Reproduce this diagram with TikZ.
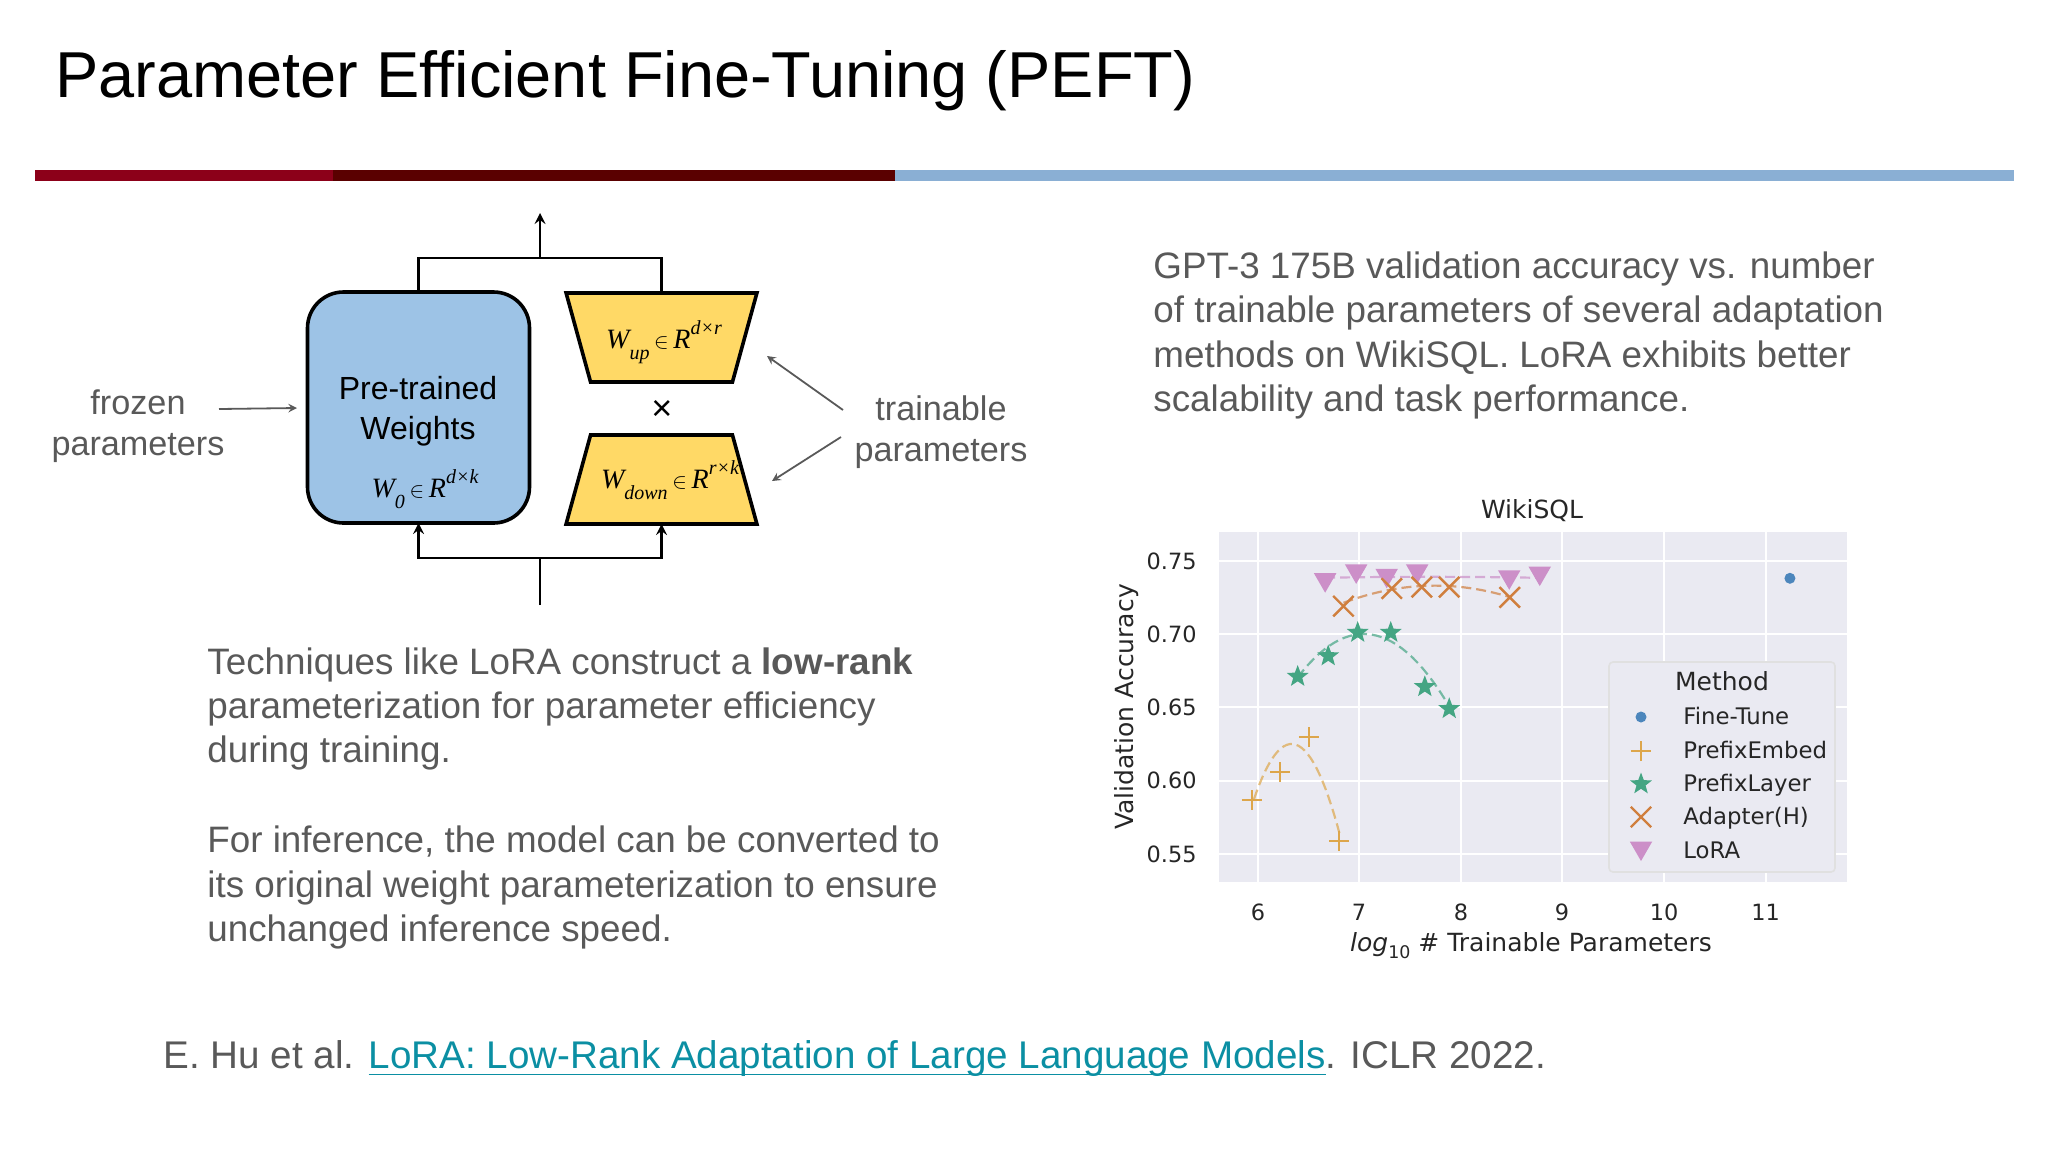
\documentclass[tikz,border=0pt]{standalone}
\usepackage{fontspec}
\setmainfont{Liberation Sans}
\newfontfamily\timesfont{Liberation Serif}
\newfontfamily\plotfont{DejaVu Sans}
\usetikzlibrary{positioning,shapes.geometric,shapes.misc}
\definecolor{barred}{HTML}{8C0019}
\definecolor{bardark}{HTML}{5A0000}
\definecolor{barblue}{HTML}{8AAFD4}
\definecolor{slidegray}{HTML}{595959}
\definecolor{linkteal}{HTML}{0B8FA3}
\definecolor{weightblue}{HTML}{9DC3E6}
\definecolor{weightyellow}{HTML}{FFD966}
\definecolor{plotbg}{HTML}{EAEAF2}
\definecolor{tunecolor}{HTML}{4C86BC}
\definecolor{embedcolor}{HTML}{DDA64B}
\definecolor{layercolor}{HTML}{44A583}
\definecolor{adaptcolor}{HTML}{D07F3E}
\definecolor{loracolor}{HTML}{CC8FC8}
\newcommand{\weightlabel}[3]{{\timesfont\itshape W\raisebox{-0.8ex}{\fontsize{10}{10}\selectfont #2}\,{\fontsize{11}{11}\selectfont$\in$}\,R\raisebox{1.1ex}{\fontsize{10}{10}\selectfont #3}}}
\newcommand{\linkline}[1]{$\underline{\hbox{\smash{#1}\rule[-1.6pt]{0pt}{1.6pt}}}$}
\tikzset{
  slidetext/.style={anchor=north west,align=left,text=slidegray,inner sep=0pt,font=\fontsize{18.4}{22.2}\selectfont},
  sidetext/.style={align=center,text=slidegray,inner sep=0pt,font=\fontsize{17.1}{20.4}\selectfont},
  weightbox/.style={draw,line width=1.8pt,outer sep=0pt,inner sep=0pt},
  lowrank/.style={weightbox,trapezium,trapezium stretches=true,fill=weightyellow,minimum width=95.5pt,minimum height=44.5pt,trapezium left angle=76.7,trapezium right angle=76.7},
  mathtext/.style={inner sep=0pt,font=\fontsize{14}{16}\selectfont},
  greyarrow/.style={->,color=slidegray,line width=0.9pt},
  plottext/.style={inner sep=0pt,text=black!85,font=\plotfont\fontsize{12.5}{14}\selectfont},
  ticktext/.style={inner sep=0pt,text=black!85,font=\plotfont\fontsize{11.2}{13}\selectfont},
  entrytext/.style={inner sep=0pt,text=black!85,anchor=base west,yshift=-3.8pt,font=\plotfont\fontsize{11.4}{13}\selectfont},
  dotmark/.style={circle,fill=tunecolor,inner sep=0pt,minimum size=5.5pt},
  plusmark/.style={cross out,draw=embedcolor,line width=1.1pt,inner sep=0pt,minimum size=6pt,rotate=45},
  starmark/.style={star,star points=5,star point ratio=2.4,fill=layercolor,inner sep=0pt,minimum size=11.5pt},
  crossmark/.style={cross out,draw=adaptcolor,line width=1.2pt,inner sep=0pt,minimum size=9pt},
  loramark/.style={regular polygon,regular polygon sides=3,shape border rotate=180,fill=loracolor,inner sep=0pt,minimum size=13pt,yshift=1.5pt},
  fitcurve/.style={dashed,dash pattern=on 5pt off 2.5pt,line width=1.1pt,opacity=0.7,samples=30}
}
\begin{document}
\begin{tikzpicture}[x=0.5pt,y=-0.5pt,>=stealth]
	\useasboundingbox (0,0) rectangle (2048,1152);
	% title and bar
	\node (title) [anchor=base west,inner sep=0pt,font=\fontsize{32.45}{36}\selectfont] at (55,97) {Parameter Efficient Fine-Tuning (PEFT)};
	\fill[barred] (35,170) rectangle (333,181);
	\fill[bardark] (333,170) rectangle (895,181);
	\fill[barblue] (895,170) rectangle (2014,181);

	% create the weight nodes.
	\node (pre) [weightbox,rounded corners=18pt,fill=weightblue,minimum width=111pt,minimum height=115.5pt] at (418.5,407.5) {};
	\node (wup) [lowrank,shape border rotate=180] at (661.5,337.5) {\phantom{W}};
	\node (wdown) [lowrank] at (661.5,479.5) {\phantom{W}};
	\node (pretext) [inner sep=0pt,align=center,font=\fontsize{16}{20}\selectfont] at (418,411) {Pre-trained\\Weights};
	\node (prelabel) [mathtext] at (425,489) {\weightlabel{W}{0}{d×k}};
	\node (uplabel) [mathtext] at (664,342) {\weightlabel{W}{up}{d×r}};
	\node (downlabel) [mathtext] at (670,480) {\weightlabel{W}{down}{r×k}};
	\node (times) [inner sep=0pt,font=\fontsize{18}{20}\selectfont] at (662,410) {×};
	\coordinate (topbus) at (540,258);
	\coordinate (topout) at (540,213);
	\coordinate (botbus) at (540,558);
	\coordinate (botin) at (540,605);
	\node (frozen) [sidetext] at (138,426) {frozen\\parameters};
	\node (trainable) [sidetext] at (941,432) {trainable\\parameters};
	\coordinate (frozenend) at (219,409);
	\coordinate (upend) at (843,410);
	\coordinate (downend) at (841,437);

	% connect the nodes
	\draw[line width=1.4pt] (pre.north) |- (topbus) -| (wup.north);
	\draw[->,line width=1.4pt] (topbus) -- (topout);
	\draw[line width=1.4pt] (botin) -- (botbus);
	\draw[->,line width=1.4pt] (botbus) -| (pre.south);
	\draw[->,line width=1.4pt] (botbus) -| (wdown.south);
	\draw[greyarrow] (frozenend) -- (297,408);
	\draw[greyarrow] (upend) -- (767,356);
	\draw[greyarrow] (downend) -- (772,481);

	% text blocks
	\node (method) [slidetext] at (207,647) {Techniques like LoRA construct a \textbf{low-rank}\\parameterization for parameter efficiency\\during training.};
	\node (inference) [slidetext] [below=27.5pt of method.south west,anchor=north west] {For inference, the model can be converted to\\its original weight parameterization to ensure\\unchanged inference speed.};
	\node (caption) [slidetext] at (1153,251.5) {GPT-3 175B validation accuracy vs. number\\of trainable parameters of several adaptation\\methods on WikiSQL. LoRA exhibits better\\scalability and task performance.};
	\node (cite) [anchor=base west,inner sep=0pt,text=slidegray,font=\fontsize{19.3}{22.2}\selectfont] at (163,1068) {E. Hu et al. \textcolor{linkteal}{\linkline{LoRA: Low-Rank Adaptation of Large Language Models}}. ICLR 2022.};

	% the plot
	\fill[plotbg] (1219,532) rectangle (1847,882);
	\node (plottitle) [plottext] at (1532,511) {WikiSQL};
	\node (ylabel) [plottext,rotate=90] at (1127,707) {Validation Accuracy};
	\node (xlabel) [plottext] at (1531,946) {{\itshape log}\raisebox{-0.5ex}{\fontsize{8.7}{9}\selectfont 10} \# Trainable Parameters};
	\foreach \tick/\xpos in {6/1258,7/1359,8/1461,9/1562,10/1664,11/1765.5} {
		\draw[white,line width=1pt] (\xpos,532) -- (\xpos,882);
		\node (xtick\tick) [ticktext] at (\xpos,912) {\tick};
	}
	\foreach \tick/\ypos in {0.75/561,0.70/634,0.65/707,0.60/780.7,0.55/854} {
		\draw[white,line width=1pt] (1219,\ypos) -- (1847,\ypos);
		\node (ytick\tick) [ticktext,anchor=east] at (1197,\ypos) {\tick};
	}
	\begin{scope}[shift={(1257,560.7)}]
	\begin{scope}[x=50.85pt,y=733pt,shift={(-6,-0.75)}]
		\draw[fitcurve,embedcolor,domain=5.97:6.82] plot (\x,{0.625-0.275*(\x-6.34)*(\x-6.34)});
		\draw[fitcurve,layercolor,domain=6.4:7.89] plot (\x,{0.7-0.07*(\x-7.05)*(\x-7.05)});
		\draw[fitcurve,adaptcolor,domain=6.85:8.49] plot (\x,{0.733-0.0145*(\x-7.75)*(\x-7.75)});
		\draw[fitcurve,loracolor,domain=6.67:8.78] plot (\x,{0.739-0.0006*(\x-7.7)*(\x-7.7)});
		\foreach \px/\py [count=\i] in {5.95/0.587,6.226/0.606,6.51/0.630,6.81/0.559}
			\node (embed\i) [plusmark] at (\px,\py) {};
		\foreach \px/\py [count=\i] in {6.40/0.671,6.70/0.685,6.99/0.701,7.315/0.701,7.65/0.664,7.89/0.649}
			\node (layer\i) [starmark] at (\px,\py) {};
		\foreach \px/\py [count=\i] in {6.67/0.735,6.975/0.741,7.275/0.738,7.575/0.741,8.48/0.737,8.78/0.7395}
			\node (lora\i) [loramark] at (\px,\py) {};
		\foreach \px/\py [count=\i] in {6.85/0.719,7.325/0.731,7.62/0.732,7.89/0.732,8.485/0.725}
			\node (adapt\i) [crossmark] at (\px,\py) {};
		\node (tune1) [dotmark] at (11.24,0.738) {};
	\end{scope}
	\end{scope}

	% the legend
	\node (legendbox) [draw=black!12,fill=plotbg,line width=0.8pt,rounded corners=2pt,minimum width=113pt,minimum height=105pt,inner sep=0pt] at (1722,767) {};
	\node (legendtitle) [plottext] at (1722,681) {Method};
	\foreach \name/\mark/\ypos in {Fine-Tune/dotmark/717,PrefixEmbed/plusmark/751,PrefixLayer/starmark/784,Adapter(H)/crossmark/817,LoRA/loramark/851} {
		\node (mark\ypos) [\mark] at (1641,\ypos) {};
		\node (entry\ypos) [entrytext] at (1683,\ypos) {\name};
	}
\end{tikzpicture}
\end{document}
